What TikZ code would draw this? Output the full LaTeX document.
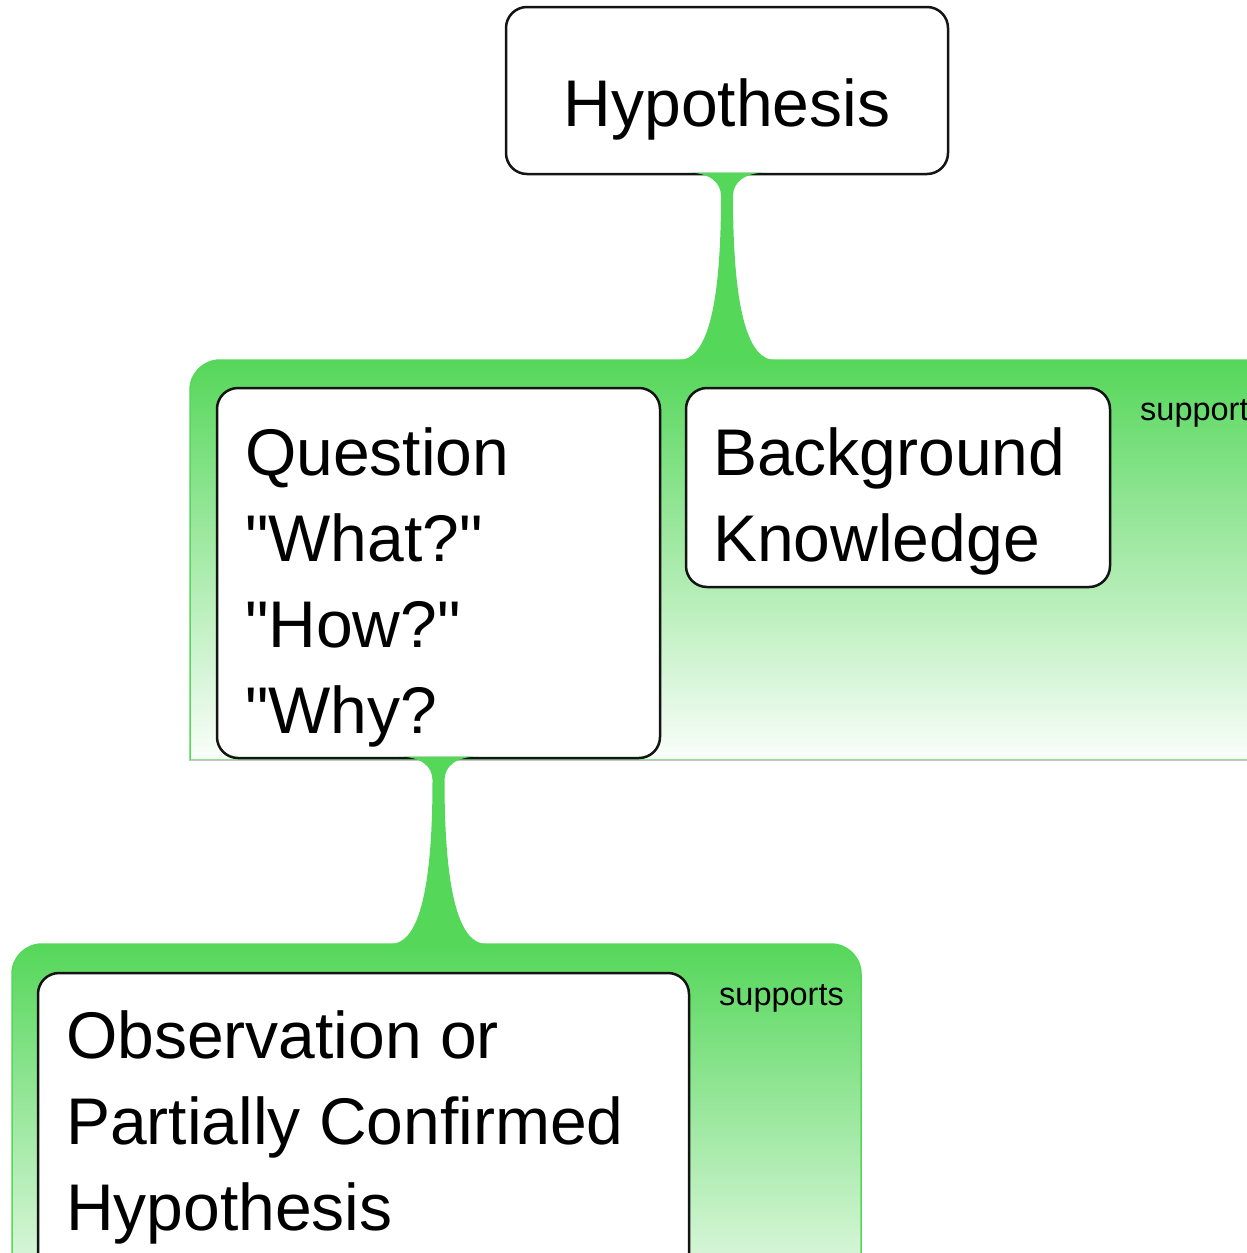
\documentclass[tikz,border=0pt]{standalone}
\usepackage{fontspec}
\setmainfont{Liberation Sans}[Ligatures=TeXOff]
\usetikzlibrary{calc}
\definecolor{G}{RGB}{85,215,90}
\definecolor{boxline}{RGB}{20,20,20}
\newcommand\stemconn[2]{%
  \fill[conn] ($(#1)+(-40,-1.5)$) .. controls ($(#1)+(-18,-1.5)$) and ($(#1)+(-6,8)$) .. ($(#1)+(-6,22)$)
    .. controls ($(#1)+(-6,140)$) and ($(#2)+(-22,0)$) .. ($(#2)+(-48,0)$)
    -- ($(#2)+(-48,3)$) -- ($(#2)+(48,3)$) -- ($(#2)+(48,0)$)
    .. controls ($(#2)+(22,0)$) and ($(#1)+(6,140)$) .. ($(#1)+(6,22)$)
    .. controls ($(#1)+(6,8)$) and ($(#1)+(18,-1.5)$) .. ($(#1)+(40,-1.5)$) -- cycle;}
\begin{document}
\begin{tikzpicture}[x=1pt,y=-1pt,
  box/.style={draw=boxline, line width=2.5pt, rounded corners=21pt, fill=white,
    rectangle, inner sep=0pt, outer sep=0pt, anchor=north west},
  lbl/.style={inner sep=0pt, font=\fontsize{66}{86}\selectfont, anchor=base west},
  small/.style={inner sep=0pt, font=\fontsize{32.5}{38}\selectfont, anchor=base west},
  conn/.style={fill=G},
  band/.style={top color=G, bottom color=G!3, draw=G, line width=1.5pt}]
\useasboundingbox (0,0) rectangle (1247,1253);
\clip (0,0) rectangle (1247,1253);
\fill[white] (0,0) rectangle (1247,1253);
% bands
\shade[band] (190,760) [rounded corners=30pt] -- (190,360) -- (1300,360) [sharp corners] -- (1300,760) -- cycle;
\draw[gray!45, line width=1pt] (190,760.5) -- (1247,760.5);
\shade[band] (12,1344) [rounded corners=30pt] -- (12,944) -- (861,944) -- (861,1344) [sharp corners] -- cycle;
% boxes
\node[box, minimum width=442pt, minimum height=167pt] (hyp) at (506,7) {};
\node[box, minimum width=443pt, minimum height=370pt] (q) at (217,388) {};
\node[box, minimum width=424pt, minimum height=199pt] (bk) at (686,388) {};
\node[box, minimum width=651pt, minimum height=330pt] (obs) at (38,973) {};
% connector ends
\coordinate (b1) at (hyp.south |- 0,360);
\coordinate (b2) at (q.south |- 0,944);
\stemconn{hyp.south}{b1}
\stemconn{q.south}{b2}
% texts
\node[lbl, anchor=base] (hyptext) at (727,126) {Hypothesis};
\node[lbl] (qtext) at (245,475) {\vtop{\hbox{Question}\hbox{"What?"}\hbox{"How?"}\hbox{"Why?}}};
\node[lbl] (bktext) at (713,475) {\vtop{\hbox{Background}\hbox{Knowledge}}};
\node[lbl] (obstext) at (66,1058) {\vtop{\hbox{Observation or}\hbox{Partially Confirmed}\hbox{Hypothesis}}};
\node[small] (sup1) at (1140,420) {supports};
\node[small] (sup2) at (719,1005) {supports};
\end{tikzpicture}
\end{document}
